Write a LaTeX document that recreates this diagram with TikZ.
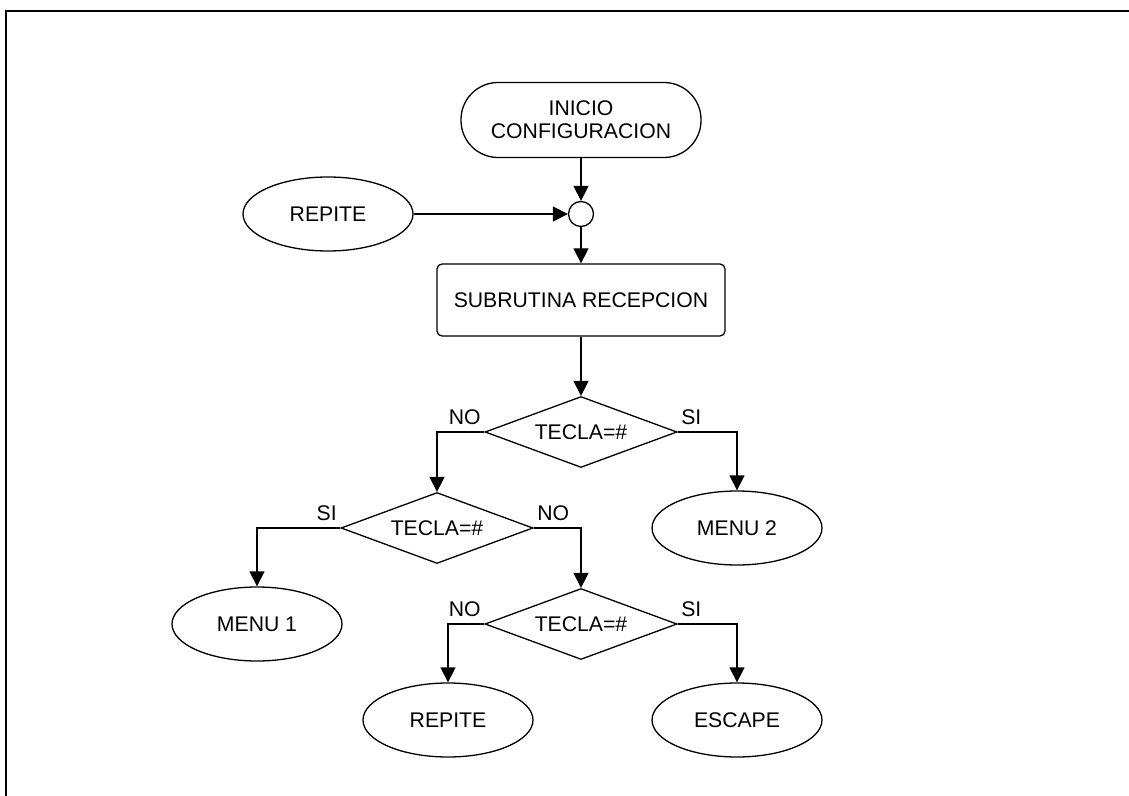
\documentclass[tikz,border=0pt]{standalone}
\usepackage{fontspec}
\setmainfont{Liberation Sans}
\usepackage{tikz}
\usetikzlibrary{shapes.geometric,arrows.meta}

\begin{document}
\begin{tikzpicture}[x=0.5pt, y=-0.5pt, node distance=48pt, font=\fontsize{10.6}{11.5}\selectfont]
\tikzstyle{terminal} = [rectangle, draw, rounded corners=18.5pt, minimum width=120pt, minimum height=37.5pt, align=center, line width=0.65pt]
\tikzstyle{process} = [rectangle, draw, rounded corners=2.5pt, minimum width=144pt, minimum height=36pt, line width=0.65pt]
\tikzstyle{decision} = [diamond, draw, aspect=2.7, inner sep=0pt, minimum width=96pt, minimum height=35.5pt, line width=0.65pt]
\tikzstyle{endpoint} = [ellipse, draw, inner sep=0pt, minimum width=85pt, minimum height=37pt, line width=0.65pt]
\tikzstyle{junction} = [circle, draw, inner sep=0pt, minimum size=12.5pt, line width=0.65pt]
\tikzstyle{lbl} = [inner sep=1.5pt, yshift=2pt]
\tikzstyle{arrow} = [line width=0.65pt, -{Triangle[length=7.5pt,width=7.5pt]}]

\useasboundingbox (0,0) rectangle (1129,796);
\draw[line width=1pt] (5.5,796) -- (5.5,11) -- (1129,11);

\node (inicio) [terminal] at (581,120) {INICIO\\CONFIGURACION};
\node (junc) [junction, below of=inicio, node distance=47pt] {};
\node (repite) [endpoint, left of=junc, node distance=126.5pt] {REPITE};
\node (subr) [process, below of=junc, node distance=43pt] {SUBRUTINA RECEPCION};
\node (tecla1) [decision, below of=subr, node distance=66pt] {TECLA=\#};
\node (tecla2) [decision, below of=tecla1, xshift=-72pt] {TECLA=\#};
\node (menu2) [endpoint, below of=tecla1, xshift=78pt] {MENU 2};
\node (menu1) [endpoint, below of=tecla2, xshift=-90pt] {MENU 1};
\node (tecla3) [decision, below of=tecla2, xshift=72pt] {TECLA=\#};
\node (repite2) [endpoint, below of=tecla3, xshift=-66.5pt] {REPITE};
\node (escape) [endpoint, below of=tecla3, xshift=78pt] {ESCAPE};

\draw [arrow] (inicio) -- (junc);
\draw [arrow] (repite) -- (junc);
\draw [arrow] (junc) -- (subr);
\draw [arrow] (subr) -- (tecla1);
\draw [arrow] (tecla1.west) node [lbl, anchor=south east] {NO} -| (tecla2);
\draw [arrow] (tecla1.east) node [lbl, anchor=south west] {SI} -| (menu2);
\draw [arrow] (tecla2.west) node [lbl, anchor=south east] {SI} -| (menu1);
\draw [arrow] (tecla2.east) node [lbl, anchor=south west] {NO} -| (tecla3);
\draw [arrow] (tecla3.west) node [lbl, anchor=south east] {NO} -| (repite2);
\draw [arrow] (tecla3.east) node [lbl, anchor=south west] {SI} -| (escape);

\end{tikzpicture}
\end{document}
